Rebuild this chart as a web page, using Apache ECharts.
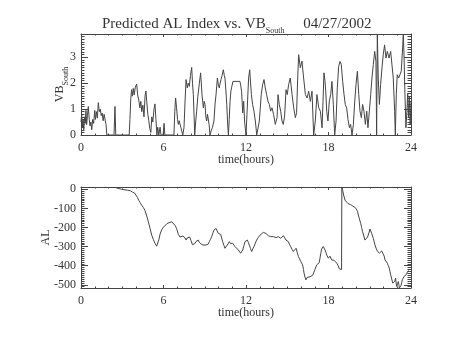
<!DOCTYPE html>
<html>
<head>
<meta charset="utf-8">
<script src="https://cdn.jsdelivr.net/npm/echarts@6/dist/echarts.min.js"></script>
<style>
  html, body { margin: 0; padding: 0; background: #fff; }
  #chart { width: 453px; height: 340px; }
</style>
</head>
<body>
<div id="chart"></div>
<script>
// Southward IMF component (VB_South) over the day, hours UT
const vbHours = [
  0.00, 0.05, 0.10, 0.15, 0.20, 0.26, 0.31, 0.36, 0.41, 0.47, 0.53, 0.60, 0.66, 0.72, 0.78, 0.85, 0.92,
  1.00, 1.05, 1.12, 1.19, 1.26, 1.33, 1.40, 1.47, 1.54, 1.61, 1.68, 1.75, 1.82, 1.88, 2.40, 2.47, 2.53,
  3.50, 3.56, 3.62, 3.68, 3.74, 3.80, 3.87, 3.95, 4.05, 4.12, 4.20, 4.28, 4.35, 4.42, 4.50, 4.58, 4.66,
  4.72, 4.78, 4.86, 4.93, 5.00, 5.08, 5.15, 5.22, 5.31, 5.38, 5.45, 5.52, 5.58, 5.66, 5.75, 5.82, 5.97,
  6.04, 6.10, 6.76, 6.82, 6.88, 6.95, 7.02, 7.08, 7.14, 7.20, 7.26, 7.32, 7.40, 7.49, 7.56, 7.64, 7.73,
  7.80, 7.88, 7.96, 8.05, 8.11, 8.17, 8.22, 8.27, 8.34, 8.41, 8.50, 8.61, 8.70, 8.80, 8.90, 8.96, 9.02,
  9.08, 9.14, 9.20, 9.26, 9.32, 9.38, 9.46, 9.55, 9.62, 9.67, 9.75, 9.82, 9.92, 10.00, 10.06, 10.12,
  10.18, 10.26, 10.35, 10.42, 10.47, 10.54, 10.60, 10.66, 10.72, 10.78, 10.84, 10.90, 10.96, 11.05,
  11.56, 11.62, 11.68, 11.76, 11.83, 11.90, 12.00, 12.07, 12.19, 12.27, 12.39, 12.48, 12.58, 12.68,
  12.78, 12.87, 12.97, 13.11, 13.21, 13.31, 13.40, 13.50, 13.60, 13.70, 13.79, 13.89, 14.01, 14.13,
  14.26, 14.33, 14.42, 14.52, 14.62, 14.71, 14.81, 14.91, 15.00, 15.10, 15.22, 15.35, 15.47, 15.59,
  15.68, 15.76, 15.83, 15.95, 16.07, 16.19, 16.32, 16.44, 16.56, 16.68, 16.80, 16.92, 17.04, 17.16,
  17.29, 17.41, 17.53, 17.60, 17.67, 17.74, 17.80, 17.87, 17.96, 18.06, 18.16, 18.25, 18.35, 18.45,
  18.55, 18.64, 18.74, 18.84, 18.93, 19.03, 19.13, 19.22, 19.32, 19.42, 19.52, 19.61, 19.71, 19.81,
  19.91, 20.00, 20.10, 20.20, 20.29, 20.39, 20.48, 20.58, 20.68, 20.78, 20.87, 20.97, 21.07, 21.16,
  21.26, 21.36, 21.45, 21.50, 21.55, 21.62, 21.70, 21.79, 21.89, 21.98, 22.08, 22.18, 22.28, 22.40,
  22.52, 22.64, 22.71, 22.81, 22.86, 22.93, 23.00, 23.10, 23.19, 23.29, 23.39, 23.44, 23.49, 23.56,
  23.63, 23.70, 23.76, 23.82, 23.88, 23.94, 24.00
];
const vbValues = [
  0.50, 0.80, 0.30, 0.60, 0.20, 0.70, 0.45, 0.95, 0.40, 0.75, 1.10, 0.60, 0.35, 0.50, 0.20, 0.60, 0.45,
  0.95, 0.60, 0.90, 0.65, 1.25, 0.90, 1.00, 0.75, 0.85, 0.55, 0.80, 0.75, 0.40, 0.00, 0.00, 1.10, 0.00,
  0.00, 0.60, 1.40, 1.75, 1.50, 1.80, 1.55, 1.85, 1.97, 1.55, 1.35, 1.05, 1.30, 0.90, 1.15, 0.70, 1.50,
  1.70, 1.30, 0.80, 0.55, 0.25, 0.10, 0.70, 0.50, 1.00, 1.20, 0.60, 0.00, 0.30, 0.00, 0.30, 0.00, 0.00,
  0.45, 0.00, 0.00, 0.90, 1.43, 1.05, 0.60, 0.41, 0.55, 0.48, 0.30, 0.28, 0.00, 0.28, 1.20, 2.14, 1.82,
  2.00, 1.88, 2.30, 2.61, 2.00, 1.56, 0.80, 0.00, 0.50, 0.92, 1.50, 2.01, 2.40, 1.56, 1.05, 1.30, 1.18,
  0.70, 0.54, 0.80, 0.79, 0.40, 0.00, 0.15, 0.28, 0.35, 0.54, 1.20, 1.56, 2.20, 1.90, 1.82, 2.00,
  2.14, 2.30, 2.52, 2.30, 2.20, 1.70, 1.18, 0.50, 0.00, 0.60, 1.30, 1.69, 1.85, 2.07,
  2.07, 1.90, 1.69, 0.85, 1.30, 0.50, 0.00, 0.79, 2.20, 2.52, 1.56, 1.18, 0.92, 0.54,
  0.00, 0.00, 0.54, 1.56, 1.95, 2.14, 1.82, 1.56, 1.30, 1.18, 0.92, 1.05, 0.79, 0.41,
  0.67, 1.56, 1.18, 0.92, 0.54, 0.41, 0.73, 1.75, 1.56, 1.95, 2.20, 1.56, 1.05, 0.67,
  0.86, 2.20, 3.10, 2.60, 2.85, 2.20, 1.56, 1.43, 1.69, 1.30, 1.69, 0.00, 0.54, 1.56,
  1.05, 0.92, 0.28, 1.30, 2.40, 2.10, 1.69, 0.92, 0.54, 1.31, 1.56, 2.07, 1.18, 0.00,
  0.54, 1.82, 2.65, 2.84, 2.72, 2.07, 1.56, 1.18, 1.05, 0.60, 0.28, 0.41, 0.00, 0.41,
  1.31, 1.95, 2.46, 1.56, 0.92, 0.67, 1.18, 0.92, 0.41, 0.92, 0.28, 0.92, 1.56, 2.20,
  2.72, 3.23, 2.84, 0.00, 3.90, 2.20, 1.18, 1.95, 2.59, 3.10, 3.48, 2.97, 3.23, 2.97,
  3.23, 3.17, 2.20, 0.92, 0.00, 1.56, 2.33, 2.20, 2.27, 2.46, 3.36, 3.90, 3.10, 1.56,
  0.28, 0.90, 1.60, 0.70, 1.50, 0.40, 1.30
];

// Predicted AL index (nT), hours UT
const alHours = [
  2.47, 2.70, 2.95, 3.20, 3.40, 3.60, 3.75, 3.90, 4.00, 4.10, 4.20, 4.30, 4.41, 4.53, 4.65, 4.78, 4.90,
  5.02, 5.14, 5.26, 5.38, 5.50, 5.58, 5.66, 5.75, 5.87, 6.00, 6.10, 6.25, 6.40, 6.50, 6.60, 6.72, 6.85,
  6.95, 7.08, 7.20, 7.32, 7.42, 7.49, 7.57, 7.64, 7.72, 7.80, 7.90, 8.00, 8.10, 8.17, 8.27, 8.36, 8.45,
  8.53, 8.60, 8.70, 8.80, 8.90, 9.02, 9.14, 9.24, 9.33, 9.42, 9.50, 9.60, 9.67, 9.75, 9.82, 9.90, 9.99,
  10.08, 10.16, 10.23, 10.30, 10.40, 10.47, 10.55, 10.64, 10.72, 10.79, 10.87, 10.95, 11.02, 11.08,
  11.14, 11.20, 11.32, 11.44, 11.52, 11.61, 11.68, 11.76, 11.85, 11.93, 12.02, 12.10, 12.17, 12.24,
  12.33, 12.41, 12.50, 12.58, 12.68, 12.77, 12.90, 13.02, 13.14, 13.26, 13.35, 13.45, 13.55, 13.62,
  13.70, 13.79, 13.90, 14.00, 14.10, 14.18, 14.26, 14.35, 14.44, 14.52, 14.62, 14.72, 14.82, 14.91,
  15.00, 15.08, 15.16, 15.25, 15.35, 15.44, 15.54, 15.64, 15.72, 15.81, 15.90, 15.98, 16.05, 16.12,
  16.18, 16.22, 16.29, 16.36, 16.44, 16.53, 16.65, 16.78, 16.85, 16.94, 17.02, 17.09, 17.14, 17.20,
  17.26, 17.32, 17.38, 17.44, 17.50, 17.56, 17.62, 17.68, 17.75, 17.81, 17.87, 17.93, 17.99, 18.05,
  18.11, 18.17, 18.23, 18.30, 18.35, 18.41, 18.47, 18.54, 18.60, 18.70, 18.79, 18.88, 18.95, 18.97,
  19.03, 19.10, 19.20, 19.27, 19.33, 19.42, 19.50, 19.60, 19.70, 19.77, 19.85, 19.95, 20.05, 20.11,
  20.17, 20.25, 20.34, 20.41, 20.48, 20.57, 20.65, 20.71, 20.77, 20.84, 20.90, 20.96, 21.02, 21.08,
  21.14, 21.20, 21.26, 21.32, 21.38, 21.46, 21.55, 21.62, 21.70, 21.78, 21.87, 21.93, 21.99, 22.05,
  22.11, 22.20, 22.28, 22.35, 22.42, 22.47, 22.52, 22.60, 22.67, 22.72, 22.76, 22.82, 22.88, 22.92,
  22.96, 23.02, 23.08, 23.12, 23.15, 23.21, 23.27, 23.32, 23.37, 23.43, 23.49, 23.56, 23.64, 23.70,
  23.76, 23.83
];
const alValues = [
  10, 5, 0, -3, -5, -8, -15, -20, -30, -42, -58, -70, -83, -95, -110, -140, -170,
  -205, -240, -262, -283, -298, -290, -265, -235, -212, -198, -188, -180, -175, -172, -170, -175, -190,
  -205, -236, -250, -257, -245, -240, -255, -266, -255, -248, -250, -268, -290, -300, -285, -274, -268,
  -266, -278, -285, -290, -292, -293, -295, -288, -274, -262, -248, -228, -214, -208, -205, -215, -231,
  -233, -236, -255, -274, -295, -309, -300, -292, -282, -274, -285, -292, -282, -274,
  -288, -300, -310, -318, -328, -335, -328, -318, -295, -274, -268, -266, -278, -292,
  -310, -326, -312, -300, -282, -266, -252, -240, -232, -226, -228, -231, -238, -243,
  -246, -248, -246, -248, -251, -253, -250, -248, -252, -257, -250, -243, -255, -266,
  -270, -274, -288, -300, -315, -326, -318, -309, -330, -352, -365, -378, -385, -396,
  -420, -439, -460, -474, -462, -457, -458, -457, -450, -448, -420, -410, -396, -400,
  -405, -385, -361, -335, -313, -305, -300, -308, -318, -330, -344, -352, -361, -355,
  -350, -360, -370, -362, -360, -372, -378, -382, -387, -400, -417, -425, -420, 7,
  -5, -30, -57, -62, -66, -75, -83, -80, -85, -88, -92, -96, -101, -115,
  -135, -155, -179, -200, -222, -245, -266, -262, -257, -250, -240, -224, -208, -218,
  -231, -245, -257, -275, -292, -308, -323, -330, -335, -328, -323, -326, -330, -350,
  -370, -378, -387, -400, -413, -430, -448, -470, -491, -498, -500, -482, -465, -490,
  -509, -495, -483, -500, -517, -512, -505, -490, -474, -465, -457, -452, -448, -438,
  -431, -425
];

// Axis extents and labelled tick values
const hourRange = [0, 24];
const hourStep = 6;
const vbRange = [0, 3.9];
const vbStep = 1;
const alRange = [-517, 12];
const alTicks = [-500, -400, -300, -200, -100, 0];

const FONT = 'Liberation Serif';
const INK = '#333';
const FRAME = '#444';
const LINE = '#444';

function pairs(xs, ys) { return xs.map((x, i) => [x, ys[i]]); }

function xAxis(gridIndex, position, showLabels) {
  return {
    type: 'value', gridIndex, position,
    min: hourRange[0], max: hourRange[1], interval: hourStep,
    name: showLabels ? 'time(hours)' : '',
    nameLocation: 'middle', nameGap: 18.5, nameMoveOverlap: false,
    nameTextStyle: { fontFamily: FONT, fontSize: 12, color: INK },
    axisLine: { show: true, onZero: false, lineStyle: { color: FRAME, width: 1 } },
    axisTick: { show: true, inside: true, length: 3, lineStyle: { color: FRAME } },
    minorTick: { show: true, splitNumber: 6, length: 1.5, lineStyle: { color: FRAME } },
    axisLabel: { show: showLabels, margin: 7, fontFamily: FONT, fontSize: 12, color: INK,
      showMinLabel: true, showMaxLabel: true },
    splitLine: { show: false }
  };
}

function frameY(gridIndex, position, extra) {
  return Object.assign({
    type: 'value', gridIndex, position,
    nameLocation: 'middle', nameRotate: 90, nameMoveOverlap: false,
    axisLine: { show: true, onZero: false, lineStyle: { color: FRAME, width: 1 } },
    splitLine: { show: false }
  }, extra);
}

function vbAxis(position, showLabels) {
  return frameY(0, position, {
    min: vbRange[0], max: vbRange[1], interval: vbStep,
    name: showLabels ? '{v|VB}{s|South}' : '',
    nameGap: 11,
    nameTextStyle: {
      rich: {
        v: { fontFamily: FONT, fontSize: 12, color: INK, lineHeight: 16, verticalAlign: 'top' },
        s: { fontFamily: FONT, fontSize: 8, color: INK, lineHeight: 6, verticalAlign: 'bottom' }
      }
    },
    axisTick: { show: true, inside: true, length: 7, lineStyle: { color: FRAME } },
    minorTick: { show: true, splitNumber: 10, length: 3.5, lineStyle: { color: FRAME } },
    axisLabel: {
      show: showLabels, margin: 5, fontFamily: FONT, fontSize: 12, color: INK,
      formatter: v => (Math.abs(v - Math.round(v)) < 1e-6 ? String(Math.round(v)) : '')
    }
  });
}

function alAxis(position, showLabels) {
  return frameY(1, position, {
    min: alRange[0], max: alRange[1],
    name: showLabels ? 'AL' : '',
    nameGap: 29,
    nameTextStyle: { fontFamily: FONT, fontSize: 12, color: INK },
    axisTick: { show: true, inside: true, length: 7, customValues: alTicks, lineStyle: { color: FRAME } },
    minorTick: { show: true, splitNumber: 10, length: 3.5, lineStyle: { color: FRAME } },
    axisLabel: {
      show: showLabels, margin: 5, fontFamily: FONT, fontSize: 12, color: INK,
      customValues: alTicks
    }
  });
}

const chart = echarts.init(document.getElementById('chart'), null, { renderer: 'canvas' });
chart.setOption({
  animation: false,
  backgroundColor: '#fff',
  title: {
    text: '{m|Predicted AL Index vs. VB}{s|South}{m|     04/27/2002}',
    left: 102, top: 17, padding: 0,
    textStyle: {
      fontWeight: 'normal',
      rich: {
        m: { fontFamily: FONT, fontSize: 15, fontWeight: 'normal', color: INK, lineHeight: 18, verticalAlign: 'top' },
        s: { fontFamily: FONT, fontSize: 8, fontWeight: 'normal', color: INK, lineHeight: 8, verticalAlign: 'bottom' }
      }
    }
  },
  grid: [
    { left: 81, top: 34, width: 330, height: 101 },
    { left: 81, top: 187, width: 330, height: 101 }
  ],
  xAxis: [
    xAxis(0, 'bottom', true), xAxis(0, 'top', false),
    xAxis(1, 'bottom', true), xAxis(1, 'top', false)
  ],
  yAxis: [
    vbAxis('left', true), vbAxis('right', false),
    alAxis('left', true), alAxis('right', false)
  ],
  series: [
    {
      type: 'line', xAxisIndex: 0, yAxisIndex: 0,
      data: pairs(vbHours, vbValues),
      showSymbol: false, clip: true,
      lineStyle: { color: LINE, width: 1 }
    },
    {
      type: 'line', xAxisIndex: 2, yAxisIndex: 2,
      data: pairs(alHours, alValues),
      showSymbol: false, clip: true,
      lineStyle: { color: LINE, width: 1 }
    }
  ]
});
</script>
</body>
</html>
